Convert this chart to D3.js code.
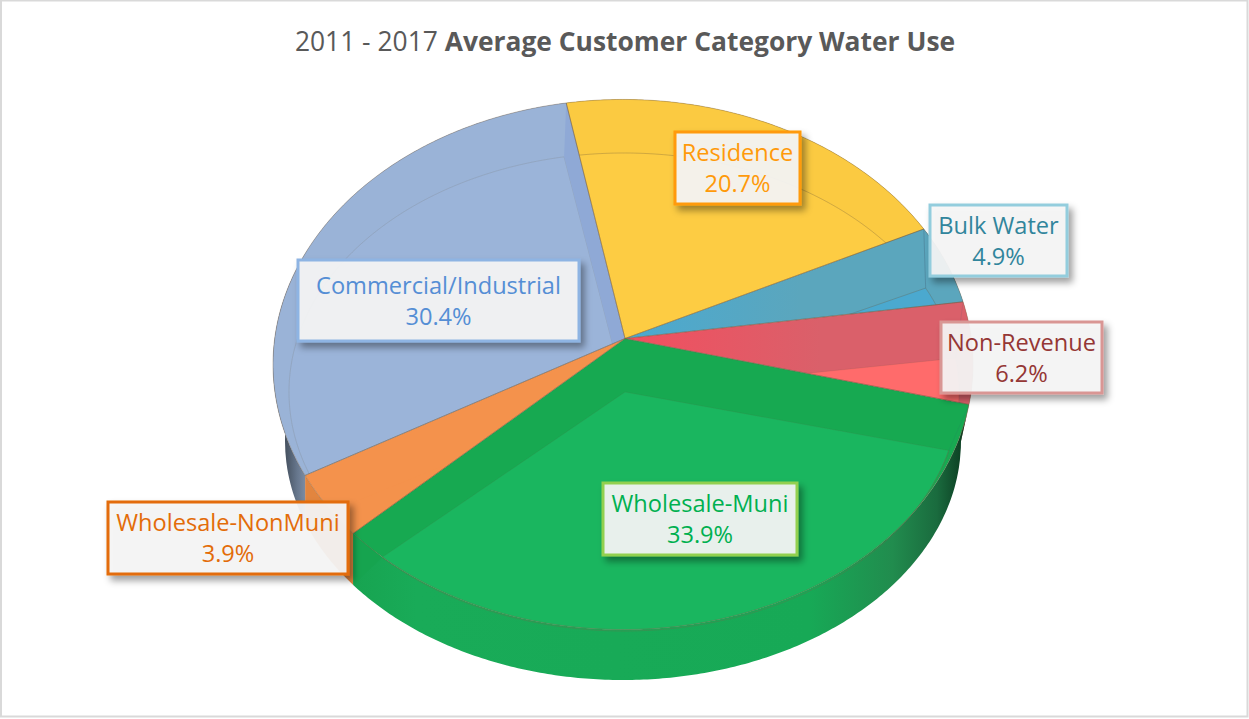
<!DOCTYPE html>
<html>
<head>
<meta charset="utf-8">
<script src="https://cdnjs.cloudflare.com/ajax/libs/d3/7.8.5/d3.min.js"></script>
<style>
  html, body { margin: 0; padding: 0; background: #fff; }
  svg { display: block; }
  text { font-family: "Open Sans", sans-serif; }
</style>
</head>
<body>
<svg id="chart" width="1249" height="719"></svg>
<script>
// Customer categories, clockwise from the back of the pie
const categories = ["Residence", "Bulk Water", "Non-Revenue", "Wholesale-Muni", "Wholesale-NonMuni", "Commercial/Industrial"];
const shares = [20.7, 4.9, 6.2, 33.9, 3.9, 30.4];

// Fill colours per slice
const rimColors = ["#fbca41", "url(#blueRim)", "url(#redRim)", "#17a951", "#f4924c", "#9ab3d7"];
const faceColors = ["#fdcc43", "#4ba9cf", "#ff6b6b", "#1ab65f", "#f4924c", "#9bb4d9"];
const wallColors = ["#c99f2c", "#3f8299", "url(#redWall)", "url(#greenWall)", "#e2853f", "url(#slateWall)"];
const seamOpacity = [0.3, 0.3, 0.12, 0.12, 0, 0.14];
const labelInk = ["#ff9a0a", "#31859c", "#953735", "#00b050", "#e36c09", "#558ed5"];
const labelEdge = ["#ff9a0a", "#93cddd", "#d99694", "#92d050", "#e36c09", "#8eb4e3"];

// Label boxes: left, top, right, bottom
const labelBoxes = [
  [675, 132, 800, 204],
  [930, 205, 1067, 276],
  [941, 322, 1102, 393],
  [603, 483, 797, 555],
  [108, 502, 348, 574],
  [298, 260, 579, 341]
];

// Tilted disc: a projective view of the unit circle for the upper surface
const upper = { cx: 623, cy: 338.5, X: 348.3, Y: 262.5, k: -0.0981, apexDx: 2 };
// Recessed face inside the rim, seen without foreshortening
const inner = { cx: 624, cy: 392, X: 335, Y: 239, k: 0, apexDx: 1 };
// Outline of the underside of the pie
const base = { cx: 623, cy: 441, X: 338, Y: 239 };
const firstAngle = -10.3 * Math.PI / 180;

const project = (disc, a) => {
  const x = Math.sin(a), y = -Math.cos(a), w = 1 + disc.k * y;
  return [disc.cx + disc.X * x / w, disc.cy + disc.Y * y / w];
};
const apex = disc => [disc.cx + disc.apexDx, disc.cy];

// Point on the underside straight below a point of the upper edge
const below = a => {
  const ux = project(upper, a)[0];
  const s = Math.max(-1, Math.min(1, (ux - base.cx) / base.X));
  const side = Math.cos(a) < 0 ? 1 : -1;
  return [ux < base.cx - base.X || ux > base.cx + base.X ? base.cx + s * base.X : ux,
          base.cy + side * base.Y * Math.sqrt(1 - s * s)];
};

const angles = (a0, a1) => {
  const n = Math.max(2, Math.ceil((a1 - a0) / 0.01));
  return d3.range(n + 1).map(i => a0 + (a1 - a0) * i / n);
};

const line = d3.line();
const sectorPath = (disc, s) =>
  line([apex(disc), ...angles(s.startAngle, s.endAngle).map(a => project(disc, a))]) + "Z";
const wallPath = s => {
  const as = angles(s.startAngle, s.endAngle);
  return line([...as.map(a => project(upper, a)), ...as.map(below).reverse()]) + "Z";
};

const pie = d3.pie().sort(null).value(d => d)
  .startAngle(firstAngle).endAngle(firstAngle + 2 * Math.PI);
const slices = pie(shares);

const svg = d3.select("#chart");
const defs = svg.append("defs");

const shadow = defs.append("filter").attr("id", "boxShadow")
  .attr("x", "-10%").attr("y", "-20%").attr("width", "125%").attr("height", "155%");
shadow.append("feDropShadow").attr("dx", 4).attr("dy", 5).attr("stdDeviation", 3.5)
  .attr("flood-color", "#000").attr("flood-opacity", 0.4);

const gradient = (id, x1, x2, y1, y2, stops) => {
  const g = defs.append("linearGradient").attr("id", id)
    .attr("gradientUnits", "userSpaceOnUse")
    .attr("x1", x1).attr("x2", x2).attr("y1", y1).attr("y2", y2);
  stops.forEach(([o, c]) => g.append("stop").attr("offset", o).attr("stop-color", c));
};
// Green wall darkens towards its far right end
gradient("greenWall", 340, 975, 0, 0,
  [[0, "#17a24f"], [0.12, "#19ab58"], [0.74, "#17a956"], [0.87, "#218c4e"], [0.94, "#1a6b3e"], [0.985, "#0b3a20"], [1, "#07331c"]]);
gradient("slateWall", 282, 312, 0, 0, [[0, "#3d4753"], [0.5, "#66768c"], [1, "#8c9db5"]]);
gradient("redWall", 0, 0, 400, 450, [[0, "#e27a6c"], [0.55, "#b0584c"], [1, "#0c3a20"]]);
gradient("blueRim", 640, 800, 0, 0, [[0, "#4ca9cf"], [1, "#5ba6bd"]]);
gradient("redRim", 640, 820, 0, 0, [[0, "#f05060"], [1, "#da606a"]]);

slices.forEach((s, i) => {
  defs.append("clipPath").attr("id", "slice" + i)
    .append("path").attr("d", sectorPath(upper, s));
});

// Frame around the chart area
svg.append("rect")
  .attr("x", 1).attr("y", 0.5).attr("width", 1246.5).attr("height", 716)
  .attr("fill", "#fff").attr("stroke", "#d9d9d9").attr("stroke-width", 2);

// Side walls first, upper surfaces paint over the hidden back part
svg.append("g").selectAll("path").data(slices).join("path")
  .attr("d", wallPath)
  .attr("fill", (d, i) => wallColors[i]);

// Rim of every slice
svg.append("g").selectAll("path").data(slices).join("path")
  .attr("d", d => sectorPath(upper, d))
  .attr("fill", (d, i) => rimColors[i]);

// Recessed face of every slice, limited to that slice's rim
svg.append("g").selectAll("g").data(slices).join("g")
  .attr("clip-path", (d, i) => `url(#slice${i})`)
  .append("path")
  .attr("d", d => sectorPath(inner, d))
  .attr("fill", (d, i) => faceColors[i])
  .attr("stroke", "#6b5a40").attr("stroke-opacity", (d, i) => seamOpacity[i]).attr("stroke-width", 1);

// Faint seam from each upper corner down to the recessed corner
svg.append("g").selectAll("path").data(slices).join("path")
  .attr("clip-path", (d, i) => `url(#slice${i})`)
  .attr("d", d => line([project(upper, d.startAngle), project(inner, d.startAngle)]))
  .attr("fill", "none")
  .attr("stroke", "#3c5a70").attr("stroke-opacity", (d, i) => seamOpacity[i]);

// Darker band along the cut of the commercial slice
svg.append("path")
  .attr("clip-path", "url(#slice5)")
  .attr("d", line([apex(upper), project(upper, firstAngle), project(inner, firstAngle), apex(inner)]) + "Z")
  .attr("fill", "#8fa9d6");

// Cut face at the left end of the green slice
const greenEnd = slices[3].endAngle;
svg.append("path")
  .attr("d", line([project(upper, greenEnd), project(inner, greenEnd), below(greenEnd)]) + "Z")
  .attr("fill", "#16a44f");

// Thin outlines along the slice edges
svg.append("g").selectAll("path").data(slices).join("path")
  .attr("d", d => sectorPath(upper, d))
  .attr("fill", "none")
  .attr("stroke", "#7a6048").attr("stroke-opacity", 0.38).attr("stroke-width", 1);

// Seam where the wall of the green slice meets its front rim
svg.append("path")
  .attr("d", line(angles(slices[3].startAngle, slices[3].endAngle).map(a => project(inner, a))))
  .attr("fill", "none").attr("stroke", "#7a6048").attr("stroke-opacity", 0.3);

// Title
const title = svg.append("text")
  .attr("x", 625).attr("y", 51).attr("text-anchor", "middle")
  .attr("font-size", 26.4).attr("fill", "#595959");
title.append("tspan").text("2011 - 2017 ");
title.append("tspan").attr("font-weight", 700).text("Average Customer Category Water Use");

// Data labels
const labels = svg.append("g").selectAll("g").data(slices).join("g");
labels.append("rect")
  .attr("x", (d, i) => labelBoxes[i][0])
  .attr("y", (d, i) => labelBoxes[i][1])
  .attr("width", (d, i) => labelBoxes[i][2] - labelBoxes[i][0])
  .attr("height", (d, i) => labelBoxes[i][3] - labelBoxes[i][1])
  .attr("fill", "#f6f6f6").attr("fill-opacity", 0.92)
  .attr("stroke", (d, i) => labelEdge[i]).attr("stroke-width", 3)
  .attr("filter", "url(#boxShadow)");
labels.append("text")
  .attr("x", (d, i) => (labelBoxes[i][0] + labelBoxes[i][2]) / 2)
  .attr("y", (d, i) => (labelBoxes[i][1] + labelBoxes[i][3]) / 2 - 7)
  .attr("text-anchor", "middle").attr("font-size", 23.6)
  .attr("fill", (d, i) => labelInk[i])
  .text((d, i) => categories[i]);
labels.append("text")
  .attr("x", (d, i) => (labelBoxes[i][0] + labelBoxes[i][2]) / 2)
  .attr("y", (d, i) => (labelBoxes[i][1] + labelBoxes[i][3]) / 2 + 24)
  .attr("text-anchor", "middle").attr("font-size", 23.6)
  .attr("fill", (d, i) => labelInk[i])
  .text(d => d.data.toFixed(1) + "%");
</script>
</body>
</html>
